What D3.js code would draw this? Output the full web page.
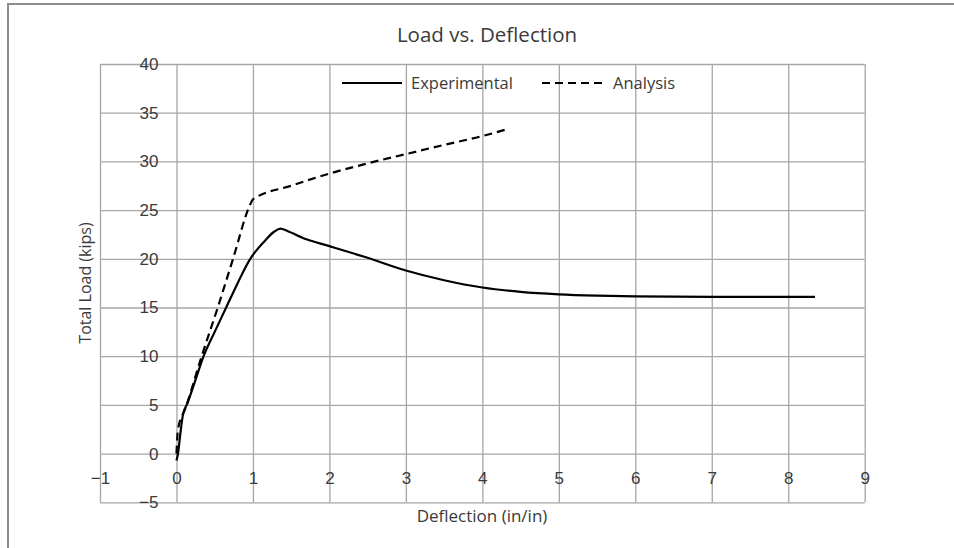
<!DOCTYPE html>
<html>
<head>
<meta charset="utf-8">
<script src="https://cdn.jsdelivr.net/npm/d3@7"></script>
<style>
  body { margin: 0; background: #fff; }
  svg { display: block; font-family: "Open Sans", "DejaVu Sans", sans-serif; }
  .grid line { stroke: #a6a6a6; stroke-width: 1.3; }
  .grid .domain { display: none; }
  .lbl text { font-size: 17px; fill: #3a3a3a; }
  .lbl .domain { display: none; }
</style>
</head>
<body>
<script>
// tick values
var xTicks = [-1, 0, 1, 2, 3, 4, 5, 6, 7, 8, 9];
var yTicks = [-5, 0, 5, 10, 15, 20, 25, 30, 35, 40];

// Experimental curve [deflection, load]
var expX = [0, 0.02, 0.05, 0.085, 0.14, 0.25, 0.355, 0.5, 0.65, 0.8, 0.965, 1.01, 1.14, 1.28, 1.36, 1.45, 1.7, 2.0, 2.5, 3.0, 3.5, 4.0, 4.5, 5.0, 5.5, 6.0, 7.0, 8.35];
var expY = [-0.7, 0, 2, 4, 5.1, 7.6, 10, 12.5, 15, 17.5, 20, 20.5, 21.7, 22.8, 23.1, 22.85, 22.0, 21.3, 20.1, 18.8, 17.8, 17.05, 16.6, 16.35, 16.22, 16.15, 16.1, 16.1];

// Analysis curve
var anaX = [0, 0.02, 0.12, 0.33, 0.54, 0.74, 0.96, 1.0, 1.5, 2.0, 2.5, 3.0, 3.5, 4.0, 4.32];
var anaY = [0, 2.5, 4.7, 10, 15, 20, 25.5, 26.1, 27.5, 28.75, 29.8, 30.75, 31.7, 32.6, 33.3];

var width = 954, height = 548;

var svg = d3.select("body").append("svg")
    .attr("width", width)
    .attr("height", height);

// chart area border (cropped at right / bottom)
svg.append("rect")
    .attr("x", 8).attr("y", 4)
    .attr("width", 980).attr("height", 580)
    .attr("fill", "#fff")
    .attr("stroke", "#8c8c8c")
    .attr("stroke-width", 2);

var x = d3.scaleLinear().domain([-1, 9]).range([100, 864.7]);
var y = d3.scaleLinear().domain([-5, 40]).range([502.3, 64]);

// gridlines
svg.append("g").attr("class", "grid")
    .attr("transform", "translate(0," + y(-5) + ")")
    .call(d3.axisBottom(x).tickValues(xTicks).tickSize(-(y(-5) - y(40))).tickFormat(""));

svg.append("g").attr("class", "grid")
    .attr("transform", "translate(" + x(-1) + ",0)")
    .call(d3.axisLeft(y).tickValues(yTicks).tickSize(-(x(9) - x(-1))).tickFormat(""));

// tick labels, axes cross at 0
svg.append("g").attr("class", "lbl")
    .attr("transform", "translate(0," + y(0) + ")")
    .call(d3.axisBottom(x).tickValues(xTicks).tickSize(0).tickPadding(18))
    .call(g => g.selectAll(".tick line").remove());

svg.append("g").attr("class", "lbl")
    .attr("transform", "translate(" + x(0) + ",0)")
    .call(d3.axisLeft(y).tickValues(yTicks).tickSize(0).tickPadding(18))
    .call(g => g.selectAll(".tick line").remove());

var line = d3.line()
    .x(d => x(d[0]))
    .y(d => y(d[1]))
    .curve(d3.curveMonotoneX);

var expData = expX.map((v, i) => [v, expY[i]]);
var anaData = anaX.map((v, i) => [v, anaY[i]]);

svg.append("path")
    .datum(anaData)
    .attr("fill", "none")
    .attr("stroke", "#000")
    .attr("stroke-width", 2.2)
    .attr("stroke-dasharray", "8,5")
    .attr("d", line);

svg.append("path")
    .datum(expData)
    .attr("fill", "none")
    .attr("stroke", "#000")
    .attr("stroke-width", 2.2)
    .attr("d", line);

// title
svg.append("text")
    .attr("x", 487).attr("y", 42)
    .attr("text-anchor", "middle")
    .attr("font-size", 20.5)
    .attr("fill", "#3a3a3a")
    .text("Load vs. Deflection");

// axis titles
svg.append("text")
    .attr("x", 482).attr("y", 522)
    .attr("text-anchor", "middle")
    .attr("font-size", 17)
    .attr("fill", "#3a3a3a")
    .text("Deflection (in/in)");

svg.append("text")
    .attr("transform", "translate(91,283) rotate(-90)")
    .attr("text-anchor", "middle")
    .attr("font-size", 16)
    .attr("fill", "#3a3a3a")
    .text("Total Load (kips)");

// legend
var legend = svg.append("g");
legend.append("line")
    .attr("x1", 342).attr("x2", 402).attr("y1", 83).attr("y2", 83)
    .attr("stroke", "#000").attr("stroke-width", 2.2);
legend.append("text")
    .attr("x", 411).attr("y", 89)
    .attr("font-size", 16.5).attr("fill", "#3a3a3a")
    .text("Experimental");
legend.append("line")
    .attr("x1", 542).attr("x2", 602).attr("y1", 83).attr("y2", 83)
    .attr("stroke", "#000").attr("stroke-width", 2.2)
    .attr("stroke-dasharray", "8,5");
legend.append("text")
    .attr("x", 613).attr("y", 89)
    .attr("font-size", 16.5).attr("fill", "#3a3a3a")
    .text("Analysis");
</script>
</body>
</html>
